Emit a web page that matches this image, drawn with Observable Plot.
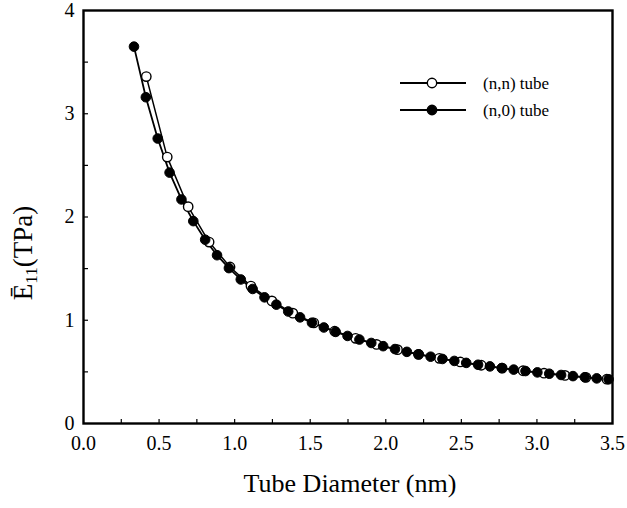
<!DOCTYPE html>
<html>
<head>
<meta charset="utf-8">
<script src="https://cdn.jsdelivr.net/npm/d3@7"></script>
<script src="https://cdn.jsdelivr.net/npm/@observablehq/plot@0.6"></script>
<style>
  html, body { margin: 0; padding: 0; background: #fff; }
  #chart { position: relative; width: 627px; height: 508px; }
</style>
</head>
<body>
<div id="chart"></div>
<script>
// (n,n) armchair tube: diameter (nm) and E11 (TPa)
const armD = [0.4155, 0.554, 0.6925, 0.831, 0.9695, 1.108, 1.2465, 1.385, 1.5235, 1.662, 1.8005, 1.939, 2.0775, 2.216, 2.3545, 2.493, 2.6315, 2.77, 2.9085, 3.047, 3.1855, 3.324, 3.4625];
const armE = [3.36, 2.58, 2.10, 1.757, 1.516, 1.331, 1.187, 1.069, 0.975, 0.894, 0.825, 0.766, 0.715, 0.670, 0.631, 0.596, 0.564, 0.536, 0.511, 0.487, 0.466, 0.447, 0.429];
// (n,0) zigzag tube
const zigD = [0.334, 0.4125, 0.491, 0.5695, 0.648, 0.7265, 0.805, 0.8835, 0.962, 1.0405, 1.119, 1.1975, 1.276, 1.3545, 1.433, 1.5115, 1.59, 1.6685, 1.747, 1.8255, 1.904, 1.9825, 2.061, 2.1395, 2.218, 2.2965, 2.375, 2.4535, 2.532, 2.6105, 2.689, 2.7675, 2.846, 2.9245, 3.003, 3.0815, 3.16, 3.2385, 3.317, 3.3955, 3.474];
const zigE = [3.65, 3.16, 2.76, 2.43, 2.17, 1.96, 1.78, 1.63, 1.505, 1.395, 1.303, 1.222, 1.151, 1.085, 1.028, 0.976, 0.930, 0.887, 0.848, 0.813, 0.780, 0.749, 0.721, 0.694, 0.670, 0.647, 0.625, 0.606, 0.587, 0.569, 0.553, 0.537, 0.522, 0.508, 0.495, 0.482, 0.470, 0.459, 0.448, 0.437, 0.428];
const xTicks = [0, 0.5, 1, 1.5, 2, 2.5, 3, 3.5];
const xTickLabels = ["0.0", "0.5", "1.0", "1.5", "2.0", "2.5", "3.0", "3.5"];
const xMinorTicks = [0.25, 0.5, 0.75, 1, 1.25, 1.5, 1.75, 2, 2.25, 2.5, 2.75, 3, 3.25];
const yTicks = [0, 1, 2, 3, 4];
const yMinorTicks = [0.5, 1, 1.5, 2, 2.5, 3, 3.5];
const seriesNames = ["(n,n) tube", "(n,0) tube"];

const arm = armD.map((d, i) => ({d, e: armE[i]}));
const zig = zigD.map((d, i) => ({d, e: zigE[i]}));

const font = "'Liberation Serif', 'Times New Roman', serif";

const plot = Plot.plot({
  width: 627,
  height: 508,
  marginLeft: 83,
  marginRight: 15,
  marginTop: 10,
  marginBottom: 85,
  style: {fontFamily: font, fontSize: "20px", color: "#000", background: "#fff"},
  x: {domain: [0, 3.5]},
  y: {domain: [0, 4]},
  marks: [
    Plot.axisX({ticks: xTicks, tickFormat: (d, i) => xTickLabels[i], tickSize: 0, tickPadding: 12, label: null, fontSize: 20, fill: "#000"}),
    Plot.axisX({ticks: xMinorTicks, tickSize: -4, tickFormat: () => "", label: null, strokeWidth: 1.2}),
    Plot.axisY({ticks: yTicks, tickFormat: d => String(d), tickSize: 0, tickPadding: 9, label: null, fontSize: 20, fill: "#000"}),
    Plot.axisY({ticks: yMinorTicks, tickSize: -5, tickFormat: () => "", label: null, strokeWidth: 1.2}),
    Plot.line(arm, {x: "d", y: "e", stroke: "#000", strokeWidth: 1.5}),
    Plot.line(zig, {x: "d", y: "e", stroke: "#000", strokeWidth: 1.8}),
    Plot.dot(arm, {x: "d", y: "e", r: 4.7, fill: "#fff", stroke: "#000", strokeWidth: 1.4}),
    Plot.dot(zig, {x: "d", y: "e", r: 4.8, fill: "#000", stroke: "#000", strokeWidth: 1}),
    Plot.frame({stroke: "#000", strokeWidth: 2.4})
  ]
});

document.getElementById("chart").appendChild(plot);

const svg = d3.select(plot);
// axis titles
svg.append("text")
  .attr("x", 350).attr("y", 492)
  .attr("text-anchor", "middle")
  .attr("font-family", font).attr("font-size", 26)
  .attr("fill", "#000")
  .text("Tube Diameter (nm)");

const yl = svg.append("text")
  .attr("transform", "translate(32,253) rotate(-90)")
  .attr("text-anchor", "middle")
  .attr("font-family", font).attr("font-size", 27)
  .attr("fill", "#000");
yl.append("tspan").attr("fill", "#000").text("\u0112");
yl.append("tspan").attr("fill", "#000").attr("font-size", 17).attr("dy", 5).text("11");
yl.append("tspan").attr("fill", "#000").attr("dy", -5).text("(TPa)");

// legend
const leg = svg.append("g").attr("font-family", font).attr("font-size", 17).attr("text-anchor", "start");
seriesNames.forEach((name, i) => {
  const y = 83 + i * 27;
  leg.append("line").attr("x1", 400).attr("x2", 466).attr("y1", y).attr("y2", y)
    .attr("stroke", "#000").attr("stroke-width", 1.8);
  leg.append("circle").attr("cx", 432).attr("cy", y).attr("r", 4.7)
    .attr("fill", i === 0 ? "#fff" : "#000").attr("stroke", "#000").attr("stroke-width", 1.4);
  leg.append("text").attr("x", 483).attr("y", y + 6).attr("fill", "#000").attr("text-anchor", "start").text(name);
});
</script>
</body>
</html>
